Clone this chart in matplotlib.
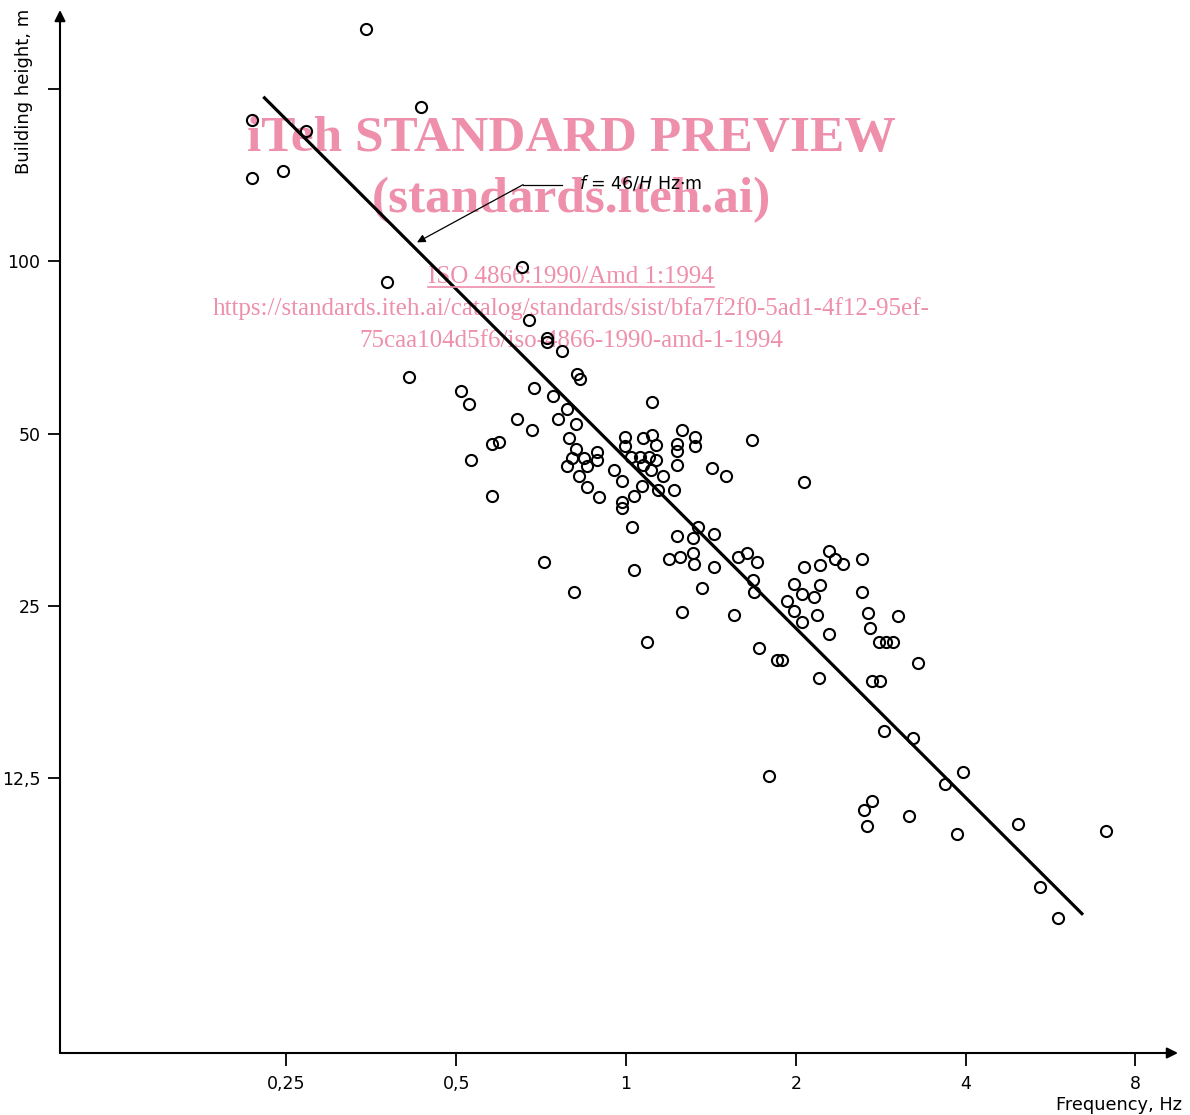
import matplotlib
matplotlib.use("Agg")
import matplotlib.pyplot as plt
from matplotlib.lines import Line2D

# building data: natural frequency (Hz) vs building height (m)
freq = [0.346, 0.433, 0.217, 0.271, 0.217, 0.247, 0.377, 0.654, 0.673, 0.724,
        0.724, 0.770, 0.412, 0.819, 0.829, 0.510, 0.527, 0.687, 0.742, 1.112,
        0.641, 0.681, 0.758, 0.786, 0.815, 0.579, 0.596, 0.792, 0.815, 0.802,
        0.786, 0.843, 0.853, 0.888, 0.888, 0.531, 0.825, 0.853, 0.896, 0.579,
        0.996, 0.996, 1.072, 1.112, 1.130, 1.257, 1.231, 1.231, 1.325, 1.325,
        1.673, 1.021, 1.059, 1.072, 1.098, 1.130, 1.108, 1.231, 0.952, 0.984,
        1.163, 1.421, 1.504, 1.068, 1.140, 1.216, 1.033, 0.984, 0.984, 1.025,
        1.342, 1.231, 1.315, 1.432, 1.315, 1.247, 1.192, 1.320, 1.432, 0.716,
        1.033, 0.809, 1.364, 1.257, 1.554, 1.090, 1.580, 1.639, 1.707, 1.679,
        1.686, 1.721, 1.852, 1.890, 2.068, 2.290, 2.347, 2.425, 2.621, 2.068,
        2.208, 1.985, 2.208, 2.051, 2.154, 1.929, 1.985, 2.181, 2.051, 2.621,
        2.685, 3.035, 2.707, 2.290, 2.809, 2.890, 2.974, 2.199, 2.730, 2.820,
        3.293, 2.867, 3.227, 1.793, 3.957, 3.677, 2.730, 2.642, 2.675, 3.175,
        3.862, 4.954, 7.095, 5.419, 5.832]
height = [255, 186, 177, 169, 140, 144, 92.2, 97.9, 79.1, 73.6,
          72.4, 69.8, 62.9, 63.6, 62.4, 59.4, 56.4, 60.2, 58.3, 56.9,
          53.1, 50.8, 53.1, 55.3, 52.1, 48.0, 48.4, 49.2, 47.1, 45.4,
          44.0, 45.4, 44.0, 46.5, 45.0, 45.0, 42.2, 40.4, 38.8, 39.0,
          49.4, 47.5, 49.2, 49.8, 47.8, 50.8, 48.0, 46.7, 49.4, 47.5,
          48.8, 45.6, 45.6, 44.1, 45.6, 44.9, 43.3, 44.1, 43.3, 41.4,
          42.2, 43.6, 42.2, 40.6, 39.8, 39.8, 39.0, 38.0, 37.1, 34.3,
          34.3, 33.2, 32.9, 33.4, 31.0, 30.5, 30.2, 29.6, 29.3, 29.9,
          28.9, 26.4, 26.9, 24.4, 24.1, 21.6, 30.4, 30.9, 29.8, 27.8,
          26.4, 21.1, 20.1, 20.1, 41.1, 31.2, 30.2, 29.6, 30.2, 29.3,
          29.5, 27.3, 27.2, 26.2, 25.9, 25.5, 24.5, 24.1, 23.4, 26.4,
          24.3, 24.0, 22.9, 22.3, 21.6, 21.6, 21.6, 18.7, 18.5, 18.5,
          19.9, 15.1, 14.7, 12.6, 12.8, 12.2, 11.4, 11.0, 10.3, 10.75,
          10.0, 10.4, 10.1, 8.08, 7.13]

# fitted line f = 46/H, end points as drawn
line_f = [0.2275, 6.46]
line_h = [194, 7.22]

xticks = [0.25, 0.5, 1, 2, 4, 8]
xticklabels = ["0,25", "0,5", "1", "2", "4", "8"]
yticks = [12.5, 25, 50, 100, 200]
yticklabels = ["12,5", "25", "50", "100", ""]

W, H = 1190, 1115
fig = plt.figure(figsize=(W / 100, H / 100), dpi=100)
ax = fig.add_axes([60 / W, 62 / H, 1118 / W, 1043 / H])

ax.set_xscale("log", base=2)
ax.set_yscale("log", base=2)
ax.set_xlim(0.0992, 9.52)
ax.set_ylim(4.14, 275)

ax.plot(freq, height, "o", ms=8, mfc="none", mec="black", mew=1.5, zorder=4)
ax.plot(line_f, line_h, color="black", lw=2.3, solid_capstyle="butt", zorder=3)

ax.set_xticks(xticks)
ax.set_xticklabels(xticklabels)
ax.set_yticks(yticks)
ax.set_yticklabels(yticklabels)
ax.minorticks_off()
ax.tick_params(axis="both", direction="out", length=9, width=1.3, labelsize=12.5, pad=5)
ax.tick_params(axis="x", pad=7)

for s in ax.spines.values():
    s.set_visible(False)
ax.patch.set_visible(False)

# axes with arrow heads
arr = dict(arrowstyle="-|>", lw=1.5, color="black", mutation_scale=16, shrinkA=0, shrinkB=0)
ax.annotate("", xy=(0, 1), xytext=(0, 0), xycoords="axes fraction", arrowprops=arr)
ax.annotate("", xy=(1, 0), xytext=(0, 0), xycoords="axes fraction", arrowprops=arr)

fig.text(24 / W, 1 - 9 / H, "Building height, m", rotation=90, ha="center", va="top", fontsize=13)
fig.text(1182 / W, 1 - 1105 / H, "Frequency, Hz", ha="right", va="center", fontsize=12.8)

# leader to the fitted line
f_tip = 0.426
ax.plot([0.657, 0.770], [136.2, 136.2], color="black", lw=0.9)
ax.annotate("", xy=(f_tip, 46 / f_tip), xytext=(0.657, 136.2),
            arrowprops=dict(arrowstyle="-|>", lw=0.9, color="black", mutation_scale=12,
                            shrinkA=0, shrinkB=0))
ax.text(0.825, 137, r"$f$ = 46/$H$ Hz$\cdot$m", fontsize=12.5, ha="left", va="center", zorder=5)

# watermark
pink = "#ee8fab"
serif = ["Liberation Serif", "DejaVu Serif"]
ax.text(0.4798, 1 - 139 / H, "iTeh STANDARD PREVIEW", transform=fig.transFigure,
        ha="center", va="center", fontsize=37, fontweight="bold", color=pink, family=serif, zorder=1)
ax.text(0.4798, 1 - 200 / H, "(standards.iteh.ai)", transform=fig.transFigure,
        ha="center", va="center", fontsize=37, fontweight="bold", color=pink, family=serif, zorder=1)
iso = ax.text(0.4798, 1 - 277 / H, "ISO 4866:1990/Amd 1:1994", transform=fig.transFigure,
              ha="center", va="center", fontsize=18, color=pink, family=serif, zorder=1)
ax.text(0.4798, 1 - 309 / H, "https://standards.iteh.ai/catalog/standards/sist/bfa7f2f0-5ad1-4f12-95ef-",
        transform=fig.transFigure, ha="center", va="center", fontsize=18, color=pink, family=serif, zorder=1)
ax.text(0.4798, 1 - 341 / H, "75caa104d5f6/iso-4866-1990-amd-1-1994", transform=fig.transFigure,
        ha="center", va="center", fontsize=18, color=pink, family=serif, zorder=1)

fig.canvas.draw()
bb = iso.get_window_extent()
yline = (bb.y0 + 1) / H
fig.add_artist(Line2D([bb.x0 / W, bb.x1 / W], [yline, yline], color=pink, lw=1.2, zorder=1))

fig.savefig("out.png", dpi=100, facecolor="white")
